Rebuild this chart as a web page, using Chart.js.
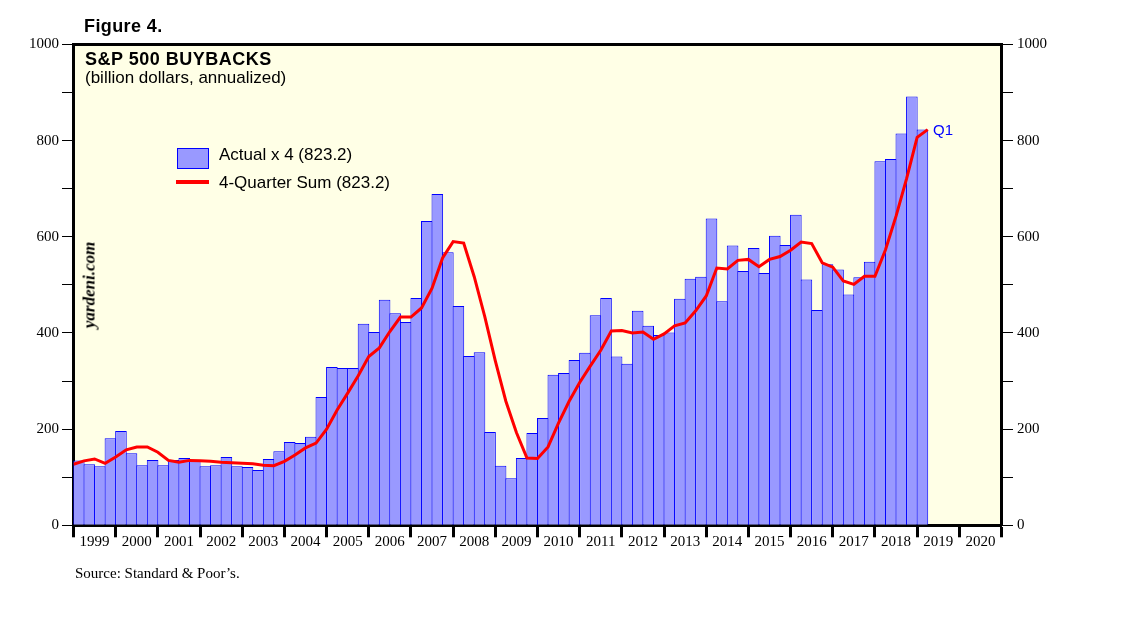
<!DOCTYPE html>
<html>
<head>
<meta charset="utf-8">
<script src="https://cdn.jsdelivr.net/npm/chart.js@4.4.1/dist/chart.umd.min.js"></script>
<style>
  body { margin: 0; background: #fff; }
  #wrap { position: relative; width: 1138px; height: 621px; overflow: hidden; }
  #myChart { position: absolute; left: 0; top: 0; }
  .txt { position: absolute; line-height: 1; white-space: nowrap; color: #000; }
  .sans { font-family: "Liberation Sans", Arial, sans-serif; }
  .serif { font-family: "Liberation Serif", "Times New Roman", serif; }
</style>
</head>
<body>
<div id="wrap">
  <canvas id="myChart" width="1138" height="621"></canvas>
  <div class="txt sans" style="left:84px; top:16.5px; font-size:18px; font-weight:bold; letter-spacing:0.4px;">Figure 4.</div>
  <div class="txt sans" style="left:85px; top:49.8px; font-size:18px; font-weight:bold; letter-spacing:0.5px;">S&amp;P 500 BUYBACKS</div>
  <div class="txt sans" style="left:85px; top:68.9px; font-size:17px;">(billion dollars, annualized)</div>

  <div style="position:absolute; left:177px; top:148px; width:30px; height:19px; background:#9999ff; border:1px solid #0000ff;"></div>
  <div class="txt sans" style="left:219px; top:145.6px; font-size:17px;">Actual x 4 (823.2)</div>
  <div style="position:absolute; left:176px; top:180px; width:33px; height:3.5px; background:#ff0000;"></div>
  <div class="txt sans" style="left:219px; top:174px; font-size:17px;">4-Quarter Sum (823.2)</div>

  <div class="txt serif" style="left:89px; top:285px; font-size:17px; font-weight:bold; font-style:italic; transform:translate(-50%,-50%) rotate(-90deg);">yardeni.com</div>
  <div class="txt sans" style="left:933px; top:122.3px; font-size:15px; color:#0000ff;">Q1</div>
  <div class="txt serif" style="left:75px; top:566.4px; font-size:15px;">Source: Standard &amp; Poor’s.</div>
</div>

<script>
// years shown on the x axis, each year = 4 quarters
var years = ['1999', '2000', '2001', '2002', '2003', '2004', '2005', '2006', '2007', '2008', '2009',
  '2010', '2011', '2012', '2013', '2014', '2015', '2016', '2017', '2018', '2019', '2020'];

// quarterly buybacks x 4, 1999 Q1 .. 2019 Q1
var actualX4 = [
  135, 127, 123, 181,
  196, 150, 125, 136,
  125, 136, 140, 134,
  123, 125, 142, 123,
  121, 115, 138, 154,
  173, 171, 184, 267,
  329, 327, 327, 419,
  402, 469, 441, 423,
  473, 633, 689, 568,
  456, 352, 360, 194,
  124, 98, 140, 192,
  223, 313, 317, 344,
  359, 437, 473, 351,
  336, 446, 415, 396,
  401, 471, 513, 517,
  638, 466, 582, 529,
  577, 525, 602, 583,
  646, 511, 448, 543,
  532, 480, 516, 548,
  757, 762, 815, 892,
  823
];

// 4-quarter sum, 1998 Q4 .. 2019 Q1 (plotted at the end of each quarter)
var fourQuarterSum = [
  127,
  134, 138, 129, 142,
  157, 163, 163, 152,
  135, 131, 135, 134,
  133, 131, 130, 129,
  128, 125, 124, 133,
  146, 161, 171, 200,
  240, 275, 311, 351,
  369, 403, 433, 433,
  452, 493, 556, 590,
  587, 517, 434, 342,
  258, 193, 140, 139,
  163, 213, 258, 297,
  331, 364, 404, 405,
  400, 402, 387, 398,
  415, 421, 446, 477,
  535, 533, 551, 553,
  538, 553, 559, 572,
  589, 586, 546, 537,
  508, 501, 518, 518,
  573, 643, 721, 807,
  823
];

var yTicks = [0, 200, 400, 600, 800, 1000];

var barPoints = actualX4.map(function(v, i) { return { x: i + 0.5, y: v }; });
var linePoints = fourQuarterSum.map(function(v, i) { return { x: i, y: v }; });

// light yellow plot background + thick top border
var framePlugin = {
  id: 'frame',
  beforeDraw: function(chart) {
    var a = chart.chartArea, c = chart.ctx;
    c.save();
    c.fillStyle = '#ffffe6';
    c.fillRect(a.left, a.top, a.right - a.left, a.bottom - a.top);
    c.restore();
  },
  afterDraw: function(chart) {
    var a = chart.chartArea, c = chart.ctx;
    c.save();
    c.strokeStyle = '#000';
    c.lineWidth = 3;
    c.beginPath();
    c.moveTo(a.left - 1.5, a.top);
    c.lineTo(a.right + 1.5, a.top);
    c.stroke();
    c.restore();
  }
};

function yLabel(v) {
  return yTicks.indexOf(v) >= 0 ? String(v) : '';
}

var serif = { family: '"Liberation Serif", "Times New Roman", serif', size: 15 };

var ctx = document.getElementById('myChart');
var myChart = new Chart(ctx, {
  data: {
    datasets: [{
      type: 'line',
      data: linePoints,
      borderColor: '#ff0000',
      borderWidth: 3,
      pointRadius: 0,
      tension: 0,
      order: 0
    }, {
      type: 'bar',
      data: barPoints,
      backgroundColor: '#9999ff',
      borderColor: '#0000ff',
      borderWidth: 1,
      borderSkipped: 'start',
      barPercentage: 1.1,
      categoryPercentage: 1,
      order: 1
    }]
  },
  options: {
    responsive: false,
    animation: false,
    layout: { padding: { top: 44.5, left: 0, right: 0, bottom: 0 } },
    plugins: { legend: { display: false }, tooltip: { enabled: false } },
    scales: {
      x: {
        type: 'linear',
        min: 0,
        max: years.length * 4,
        offset: false,
        afterFit: function(scale) { scale.height = 95.7; },
        border: { display: true, width: 3, color: '#000' },
        grid: {
          offset: false,
          drawOnChartArea: false,
          tickLength: 12,
          tickWidth: 3,
          tickColor: function(c) { return c.tick && c.tick.value % 4 === 0 ? '#000' : 'rgba(0,0,0,0)'; }
        },
        ticks: {
          stepSize: 2,
          autoSkip: false,
          maxRotation: 0,
          padding: -4,
          color: '#000',
          font: serif,
          callback: function(v) { return v % 4 === 2 ? years[(v - 2) / 4] : ''; }
        }
      },
      y: {
        position: 'left',
        min: 0,
        max: 1000,
        afterFit: function(scale) { scale.width = 73.5; },
        border: { display: true, width: 3, color: '#000' },
        grid: { drawOnChartArea: false, tickLength: 11.5, tickWidth: 1, tickColor: '#000' },
        ticks: { stepSize: 100, padding: 3, color: '#000', font: serif, callback: yLabel }
      },
      y2: {
        position: 'right',
        min: 0,
        max: 1000,
        afterFit: function(scale) { scale.width = 136.5; },
        border: { display: true, width: 3, color: '#000' },
        grid: { drawOnChartArea: false, tickLength: 11.5, tickWidth: 1, tickColor: '#000' },
        ticks: { stepSize: 100, padding: 4, color: '#000', font: serif, callback: yLabel }
      }
    }
  },
  plugins: [framePlugin]
});
</script>
</body>
</html>
